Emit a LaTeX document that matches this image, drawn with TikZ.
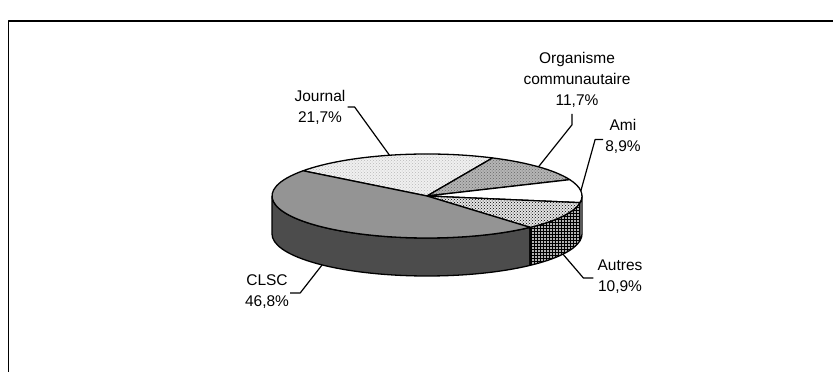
\documentclass[tikz,border=0pt]{standalone}
\usepackage{fontspec}
\setmainfont{Liberation Sans}
\usetikzlibrary{calc,patterns}
\begin{document}
\begin{tikzpicture}[x=1pt,y=1pt,line join=round,font=\fontsize{15.5}{21}\selectfont]
	\tikzset{declare function={rx=155;ry=42;hh=38;},
		face/.style={draw,line width=1.3pt},
		leader/.style={draw,line width=1.2pt},
		lbl/.style={align=center,inner sep=0pt},
		jour/.style={preaction={fill=gray!12},pattern=crosshatch dots,pattern color=gray!55},
		orga/.style={preaction={fill=gray!58},pattern=crosshatch dots,pattern color=black!60},
		ami/.style={fill=white},
		autr/.style={preaction={fill=gray!22},pattern=crosshatch dots,pattern color=black},
		clsc/.style={fill=black!42},
		autrside/.style={preaction={fill=gray!60},pattern=grid,pattern color=black},
		clscside/.style={fill=black!70}
	}
	\useasboundingbox (0,0) rectangle (833,372);
	\draw[line width=1.5pt] (8.5,0)--(8.5,351)--(833,351);
	\coordinate (C) at (427,176);
	\coordinate (D) at (427,138);
	\foreach \sa/\ea/\fs in {180/311.7/clscside,311.7/350.9/autrside,350.9/360/ami}
		\path[face,\fs] ($(C)+(\sa:rx and ry)$) arc[start angle=\sa,end angle=\ea,x radius=rx,y radius=ry]
		--++(0,-hh) arc[start angle=\ea,end angle=\sa,x radius=rx,y radius=ry]--cycle;
	\foreach \sa/\ea/\fs in {65/143.1/jour,22.9/65/orga,-9.1/22.9/ami,-48.3/-9.1/autr,-216.9/-48.3/clsc}
		\path[face,\fs] (C)--($(C)+(\sa:rx and ry)$) arc[start angle=\sa,end angle=\ea,x radius=rx,y radius=ry]--cycle;
	\coordinate (tipJ) at ($(C)+(104:rx and ry)$);
	\coordinate (tipO) at ($(C)+(44:rx and ry)$);
	\coordinate (tipA) at ($(C)+(7:rx and ry)$);
	\coordinate (tipAu) at ($(D)+(-28.7:rx and ry)$);
	\coordinate (tipC) at ($(D)+(227.4:rx and ry)$);
	\node[lbl] (journal) at (320,265) {Journal\\21,7\%};
	\node[lbl] (organisme) at (577,292) {Organisme\\communautaire\\11,7\%};
	\node[lbl] (amis) at (623,235.5) {Ami\\8,9\%};
	\node[lbl] (autres) at (620,95) {Autres\\10,9\%};
	\node[lbl] (clscl) at (267,80.5) {CLSC\\46,8\%};
	\draw[leader] ([xshift=2]journal.east)--++(7,0)--(tipJ);
	\draw[leader] ([xshift=-5,yshift=-6]organisme.south)--++(0,-11)--(tipO);
	\draw[leader] ([xshift=-2,yshift=-3]amis.west)--++(-8,0)--(tipA);
	\draw[leader] ([xshift=-4,yshift=-1]autres.west)--++(-10,0)--(tipAu);
	\draw[leader] ([xshift=1,yshift=-1.5]clscl.east)--++(10,0)--(tipC);
\end{tikzpicture}
\end{document}
